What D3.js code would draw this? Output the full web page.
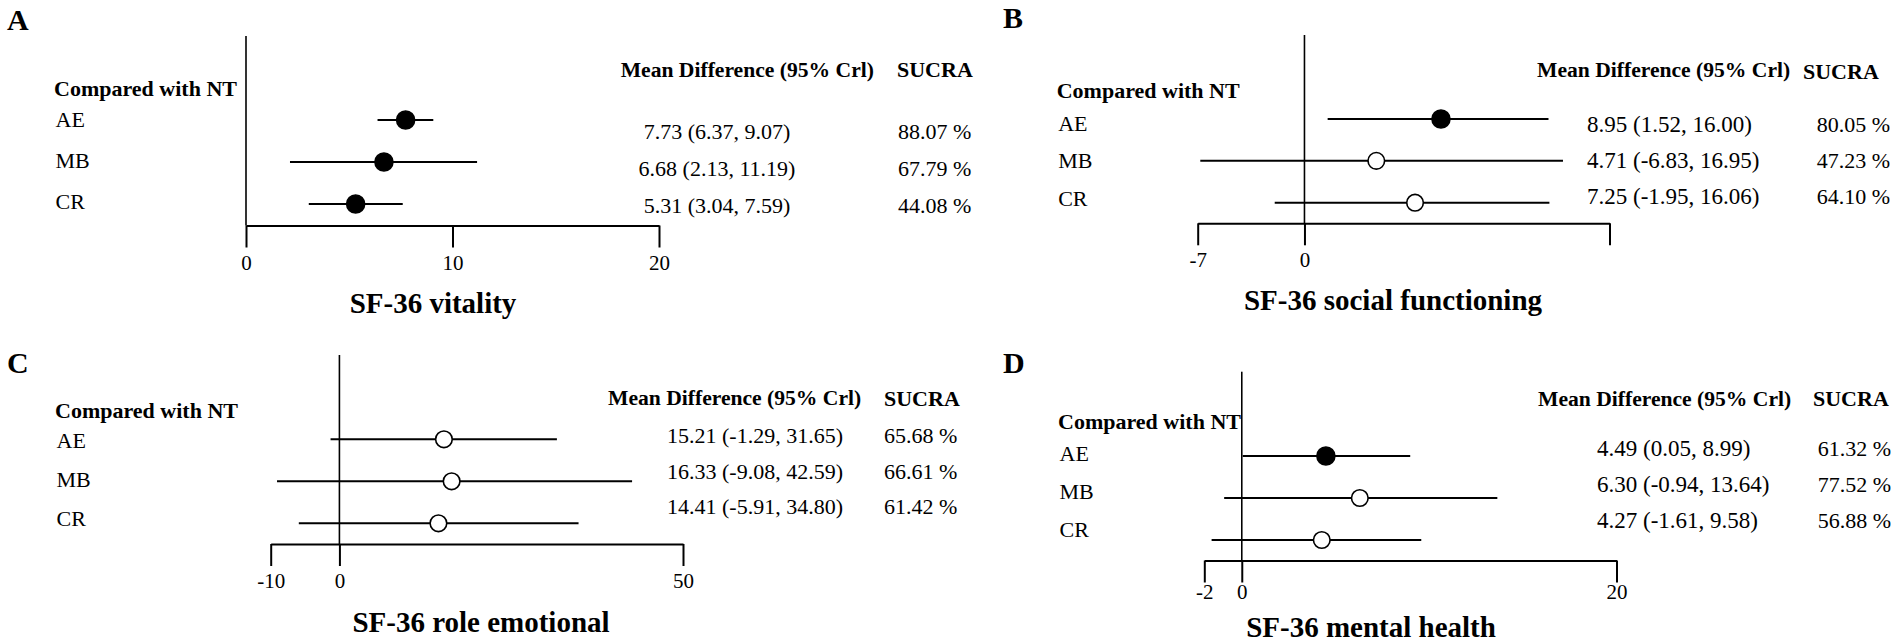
<!DOCTYPE html>
<html>
<head>
<meta charset="utf-8">
<script src="https://cdn.jsdelivr.net/npm/d3@7"></script>
<style>
  body { margin: 0; background: #fff; }
  svg text { font-family: "Liberation Serif", "Times New Roman", serif; fill: #000; }
</style>
</head>
<body>
<div id="chart"></div>
<script>
// data
var panelLetters = ["A", "B", "C", "D"];
var outcomes = ["SF-36 vitality", "SF-36 social functioning", "SF-36 role emotional", "SF-36 mental health"];
var treatments = ["AE", "MB", "CR"];

var meanDiff = [[7.73, 6.68, 5.31], [8.95, 4.71, 7.25], [15.21, 16.33, 14.41], [4.49, 6.30, 4.27]];
var lowerCrI = [[6.37, 2.13, 3.04], [1.52, -6.83, -1.95], [-1.29, -9.08, -5.91], [0.05, -0.94, -1.61]];
var upperCrI = [[9.07, 11.19, 7.59], [16.00, 16.95, 16.06], [31.65, 42.59, 34.80], [8.99, 13.64, 9.58]];
var sucra    = [[88.07, 67.79, 44.08], [80.05, 47.23, 64.10], [65.68, 66.61, 61.42], [61.32, 77.52, 56.88]];

var axisDomains = [[0, 20], [-7, 20], [-10, 50], [-2, 20]];
var tickValues  = [[0, 10, 20], [-7, 0, 20], [-10, 0, 50], [-2, 0, 20]];
var tickLabels  = [["0", "10", "20"], ["-7", "0", ""], ["-10", "0", "50"], ["-2", "0", "20"]];

// where each panel sits on the page
var layout = [
  { letter: [7, 30], x: [246, 659], axisY: 225.5, top: 36, pad: 7.6,
    rows: [120, 204], labels: [127.3, 209.3], comp: [54, 96],
    md: [620.7, 77], su: [897, 77], valX: 717, valAnchor: "middle", valSize: 22,
    textRows: [139, 213], suX: 898, suAnchor: "start", title: [433, 313] },
  { letter: [1003, 28], x: [1197.7, 1609.5], axisY: 223.3, top: 35, pad: 6.8,
    rows: [119, 202.7], labels: [130.7, 205.7], comp: [1056.7, 98.3],
    md: [1537, 77], su: [1803, 79], valX: 1587, valAnchor: "start", valSize: 23,
    textRows: [131.7, 204], suX: 1890, suAnchor: "end", title: [1393, 310] },
  { letter: [7, 373.3], x: [270.7, 683], axisY: 544, top: 355, pad: 6.8,
    rows: [439.3, 523.3], labels: [447.7, 526], comp: [55, 418.3],
    md: [608, 405], su: [884, 406], valX: 667, valAnchor: "start", valSize: 22,
    textRows: [443, 514], suX: 884, suAnchor: "start", title: [481, 631.7] },
  { letter: [1003, 373.3], x: [1204.3, 1616.5], axisY: 560.5, top: 371.7, pad: 2,
    rows: [456, 540], labels: [461, 536.7], comp: [1058, 429],
    md: [1538, 406], su: [1813, 406], valX: 1597, valAnchor: "start", valSize: 23,
    textRows: [456, 528], suX: 1891, suAnchor: "end", title: [1371, 636.7] }
];

var width = 1902, height = 644;
// plain hyphen for negatives, like the original figure
function fmt(v) { return v.toFixed(2); }

var svg = d3.select("#chart").append("svg")
    .attr("width", width)
    .attr("height", height);

svg.append("rect").attr("width", width).attr("height", height).attr("fill", "#fff");

panelLetters.forEach(function (letter, p) {
  var L = layout[p];
  var g = svg.append("g");

  var x = d3.scaleLinear().domain(axisDomains[p]).range(L.x);
  var y = d3.scalePoint().domain(treatments).range(L.rows);
  var yLab = d3.scalePoint().domain(treatments).range(L.labels);
  var yTxt = d3.scalePoint().domain(treatments).range(L.textRows);

  var rows = treatments.map(function (t, i) {
    return { name: t, md: meanDiff[p][i], lo: lowerCrI[p][i], hi: upperCrI[p][i], su: sucra[p][i] };
  });

  // panel letter
  g.append("text")
      .attr("x", L.letter[0]).attr("y", L.letter[1])
      .attr("font-size", 30).attr("font-weight", "bold")
      .text(letter);

  // x axis
  var axis = d3.axisBottom(x)
      .tickValues(tickValues[p])
      .tickFormat(function (d, i) { return tickLabels[p][i]; })
      .tickSizeInner(22)
      .tickSizeOuter(0)
      .tickPadding(L.pad);

  var ax = g.append("g")
      .attr("transform", "translate(0," + L.axisY + ")")
      .call(axis);
  ax.select(".domain").attr("stroke", "#000").attr("stroke-width", 2);
  ax.selectAll(".tick line").attr("stroke", "#000").attr("stroke-width", 2);
  ax.selectAll(".tick text")
      .attr("font-family", "Liberation Serif")
      .attr("font-size", 21)
      .attr("fill", "#000");

  // line of no effect
  g.append("line")
      .attr("x1", x(0)).attr("x2", x(0))
      .attr("y1", L.top).attr("y2", L.axisY)
      .attr("stroke", "#000").attr("stroke-width", 1.6);

  // credible intervals
  g.selectAll("line.ci")
      .data(rows)
      .enter()
      .append("line")
      .attr("class", "ci")
      .attr("x1", function (d) { return x(d.lo); })
      .attr("x2", function (d) { return x(d.hi); })
      .attr("y1", function (d) { return y(d.name); })
      .attr("y2", function (d) { return y(d.name); })
      .attr("stroke", "#000")
      .attr("stroke-width", 2);

  // point estimates: filled when the interval excludes zero
  g.selectAll("circle")
      .data(rows)
      .enter()
      .append("circle")
      .attr("cx", function (d) { return x(d.md); })
      .attr("cy", function (d) { return y(d.name); })
      .attr("r", function (d) { return (d.lo > 0 || d.hi < 0) ? 9 : 8.3; })
      .attr("fill", function (d) { return (d.lo > 0 || d.hi < 0) ? "#000" : "#fff"; })
      .attr("stroke", "#000")
      .attr("stroke-width", 1.6);

  // left header and treatment names
  g.append("text")
      .attr("x", L.comp[0]).attr("y", L.comp[1])
      .attr("font-size", 22).attr("font-weight", "bold")
      .text("Compared with NT");

  g.selectAll("text.trt")
      .data(rows)
      .enter()
      .append("text")
      .attr("class", "trt")
      .attr("x", L.comp[0] + 1.5)
      .attr("y", function (d) { return yLab(d.name); })
      .attr("font-size", 22)
      .text(function (d) { return d.name; });

  // right-hand columns
  g.append("text")
      .attr("x", L.md[0]).attr("y", L.md[1])
      .attr("font-size", 21.6).attr("font-weight", "bold")
      .text("Mean Difference (95% Crl)");

  g.append("text")
      .attr("x", L.su[0]).attr("y", L.su[1])
      .attr("font-size", 22).attr("font-weight", "bold")
      .text("SUCRA");

  g.selectAll("text.md")
      .data(rows)
      .enter()
      .append("text")
      .attr("class", "md")
      .attr("x", L.valX)
      .attr("y", function (d) { return yTxt(d.name); })
      .attr("text-anchor", L.valAnchor)
      .attr("font-size", L.valSize)
      .text(function (d) { return fmt(d.md) + " (" + fmt(d.lo) + ", " + fmt(d.hi) + ")"; });

  g.selectAll("text.su")
      .data(rows)
      .enter()
      .append("text")
      .attr("class", "su")
      .attr("x", L.suX)
      .attr("y", function (d) { return yTxt(d.name); })
      .attr("text-anchor", L.suAnchor)
      .attr("font-size", 22)
      .text(function (d) { return fmt(d.su) + " %"; });

  // outcome title
  g.append("text")
      .attr("x", L.title[0]).attr("y", L.title[1])
      .attr("text-anchor", "middle")
      .attr("font-size", 29).attr("font-weight", "bold")
      .text(outcomes[p]);
});
</script>
</body>
</html>
